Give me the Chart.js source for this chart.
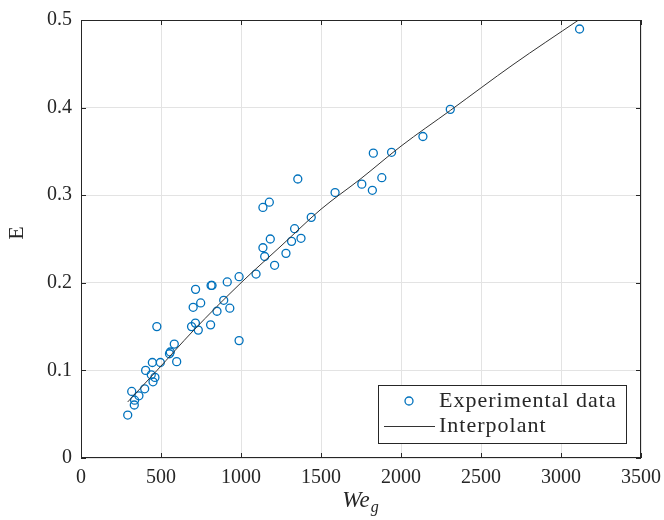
<!DOCTYPE html>
<html>
<head>
<meta charset="utf-8">
<script src="https://cdn.jsdelivr.net/npm/chart.js@4.4.0/dist/chart.umd.min.js"></script>
<style>
  html, body { margin: 0; padding: 0; background: #fff; }
  #wrap { width: 664px; height: 520px; }
</style>
</head>
<body>
<div id="wrap"><canvas id="chart" width="664" height="520"></canvas></div>
<script>
"use strict";

// experimental points (We_g, E)
const weData = [292, 317, 335, 333, 362, 398, 404, 446, 450, 462,
  439, 496, 474, 558, 553, 583, 598, 691, 715, 733,
  701, 716, 748, 810, 813, 819, 850, 892, 914, 930,
  988, 988, 1094, 1137, 1148, 1183, 1210, 1281, 1316, 1335,
  1375, 1439, 1137, 1177, 1355, 1588, 1755, 1821, 1880, 1827,
  1941, 2137, 2308, 3116];
const eData = [0.049, 0.076, 0.066, 0.0605, 0.071, 0.079, 0.100, 0.109, 0.087, 0.092,
  0.095, 0.109, 0.150, 0.121, 0.119, 0.130, 0.110, 0.150, 0.154, 0.146,
  0.172, 0.1925, 0.177, 0.152, 0.197, 0.197, 0.1675, 0.180, 0.201, 0.171,
  0.134, 0.207, 0.210, 0.240, 0.230, 0.250, 0.220, 0.2336, 0.2473, 0.2618,
  0.2508, 0.2747, 0.286, 0.292, 0.3185, 0.303, 0.3126, 0.3056, 0.320, 0.348,
  0.349, 0.367, 0.398, 0.4897];

// interpolant curve
const fitWe = [292, 475, 700, 1000, 1250, 1500, 1750, 2000, 2310, 2700, 3110];
const fitE = [0.064, 0.100, 0.145, 0.200, 0.242, 0.284, 0.319, 0.356, 0.397, 0.449, 0.500];

const xTickValues = [0, 500, 1000, 1500, 2000, 2500, 3000, 3500];
const yTickValues = [0, 0.1, 0.2, 0.3, 0.4, 0.5];
const yTickLabels = ["0", "0.1", "0.2", "0.3", "0.4", "0.5"];

const seriesNames = ["Experimental data", "Interpolant"];

const SERIF = "'Liberation Serif', 'DejaVu Serif', serif";
const AXIS_COLOR = "#262626";
const DOT_COLOR = "#0072BD";

const points = weData.map((w, i) => ({ x: w, y: eData[i] }));
const curve = fitWe.map((w, i) => ({ x: w, y: fitE[i] }));

// box, inward ticks, legend and axis labels
const decorations = {
  id: "decorations",
  afterDraw(chart) {
    const { ctx, chartArea: a, scales } = chart;
    ctx.save();

    // axis box
    ctx.strokeStyle = AXIS_COLOR;
    ctx.lineWidth = 1;
    ctx.strokeRect(a.left + 0.5, a.top + 0.5, a.right - a.left - 1, a.bottom - a.top - 1);

    // inward tick marks
    const tl = 5;
    ctx.beginPath();
    xTickValues.forEach((v) => {
      const px = Math.round(scales.x.getPixelForValue(v)) + 0.5;
      ctx.moveTo(px, a.bottom);
      ctx.lineTo(px, a.bottom - tl);
      ctx.moveTo(px, a.top);
      ctx.lineTo(px, a.top + tl);
    });
    yTickValues.forEach((v) => {
      const py = Math.round(scales.y.getPixelForValue(v)) + 0.5;
      ctx.moveTo(a.left, py);
      ctx.lineTo(a.left + tl, py);
      ctx.moveTo(a.right, py);
      ctx.lineTo(a.right - tl, py);
    });
    ctx.stroke();

    // legend
    const lx = 378, ly = 385, lw = 248, lh = 58;
    ctx.fillStyle = "#fff";
    ctx.fillRect(lx, ly, lw, lh);
    ctx.strokeStyle = AXIS_COLOR;
    ctx.strokeRect(lx + 0.5, ly + 0.5, lw, lh);

    ctx.strokeStyle = DOT_COLOR;
    ctx.lineWidth = 1.3;
    ctx.beginPath();
    ctx.arc(409, 401, 4, 0, Math.PI * 2);
    ctx.stroke();

    ctx.strokeStyle = "#333";
    ctx.lineWidth = 1;
    ctx.beginPath();
    ctx.moveTo(384, 426.5);
    ctx.lineTo(435, 426.5);
    ctx.stroke();

    ctx.fillStyle = AXIS_COLOR;
    ctx.font = "22px " + SERIF;
    ctx.letterSpacing = "1px";
    ctx.textAlign = "left";
    ctx.textBaseline = "middle";
    ctx.fillText(seriesNames[0], 439, 401);
    ctx.fillText(seriesNames[1], 439, 426);
    ctx.letterSpacing = "0px";

    // y label
    ctx.save();
    ctx.translate(17, 233);
    ctx.rotate(-Math.PI / 2);
    ctx.textAlign = "center";
    ctx.textBaseline = "middle";
    ctx.font = "22px " + SERIF;
    ctx.fillText("E", 0, 0);
    ctx.restore();

    // x label We_g
    ctx.textAlign = "left";
    ctx.textBaseline = "alphabetic";
    ctx.font = "italic 23px " + SERIF;
    const weW = ctx.measureText("We").width;
    const sx = 360 - (weW + 8) / 2;
    ctx.fillText("We", sx, 507);
    ctx.font = "italic 16px " + SERIF;
    ctx.fillText("g", sx + weW + 1, 512);

    ctx.restore();
  },
};

new Chart(document.getElementById("chart"), {
  type: "scatter",
  data: {
    datasets: [
      {
        type: "line",
        label: seriesNames[1],
        data: curve,
        borderColor: "#333",
        borderWidth: 1,
        pointRadius: 0,
        fill: false,
        cubicInterpolationMode: "monotone",
        order: 0,
      },
      {
        label: seriesNames[0],
        data: points,
        pointStyle: "circle",
        pointRadius: 4,
        pointBorderWidth: 1.3,
        pointBorderColor: DOT_COLOR,
        pointBackgroundColor: "rgba(0,0,0,0)",
        order: 1,
      },
    ],
  },
  options: {
    responsive: false,
    animation: false,
    layout: { padding: { top: 20, right: 23, left: 0, bottom: 0 } },
    plugins: {
      legend: { display: false },
      tooltip: { enabled: false },
    },
    scales: {
      x: {
        type: "linear",
        min: 0,
        max: 3500,
        afterBuildTicks: (scale) => {
          scale.ticks = xTickValues.map((v) => ({ value: v }));
        },
        afterFit: (scale) => {
          scale.height = 62;
          scale.paddingLeft = 0;
          scale.paddingRight = 0;
        },
        ticks: {
          color: AXIS_COLOR,
          font: { family: SERIF, size: 20 },
          padding: 8,
          maxRotation: 0,
          callback: (v) => String(v),
        },
        grid: { color: "#e3e3e3", drawTicks: false },
        border: { display: false },
      },
      y: {
        type: "linear",
        min: 0,
        max: 0.5,
        afterBuildTicks: (scale) => {
          scale.ticks = yTickValues.map((v) => ({ value: v }));
        },
        afterFit: (scale) => {
          scale.width = 81;
          scale.paddingTop = 0;
          scale.paddingBottom = 0;
        },
        ticks: {
          color: AXIS_COLOR,
          font: { family: SERIF, size: 20 },
          padding: 9,
          callback: (v, i) => yTickLabels[i],
        },
        grid: { color: "#e3e3e3", drawTicks: false },
        border: { display: false },
      },
    },
  },
  plugins: [decorations],
});
</script>
</body>
</html>
